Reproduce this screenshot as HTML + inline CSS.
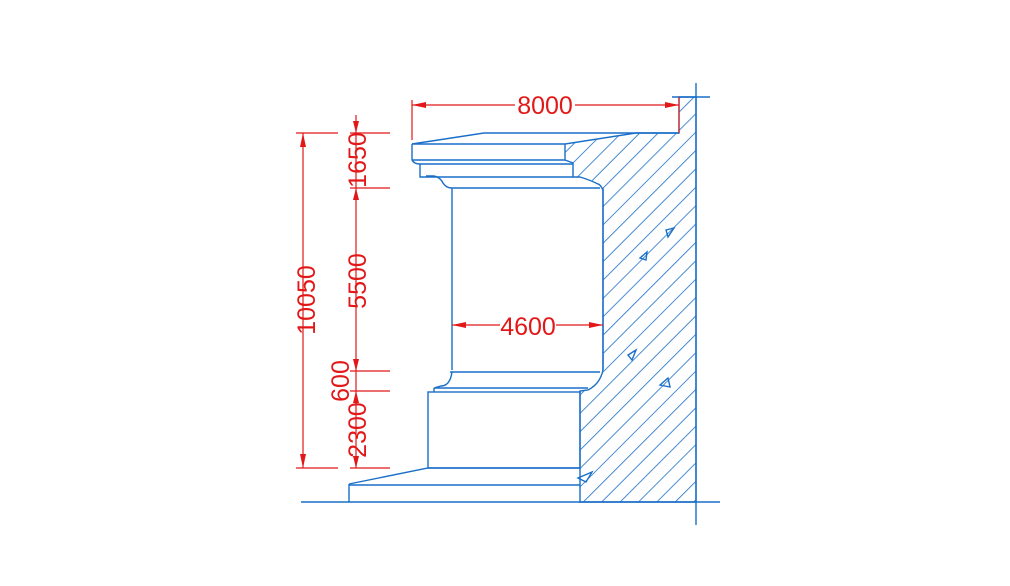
<!DOCTYPE html>
<html><head><style>html,body{margin:0;padding:0;background:#fff}</style></head><body>
<svg width="1010" height="581" viewBox="0 0 1010 581" xmlns="http://www.w3.org/2000/svg">
<defs>
<pattern id="h" patternUnits="userSpaceOnUse" width="13" height="13" patternTransform="rotate(45)">
<line x1="0" y1="0" x2="0" y2="13" stroke="#1a6fc8" stroke-width="1.6"/>
</pattern>
</defs>
<g fill="none" stroke="#1a6fc8" stroke-width="1.4">
<path d="M679,97 L696,97 L696,502 L580,502 L580,391 L588,390 Q600,384 603,370 L603,190 Q600,184 598,184 Q590,180 580,177 L573,177 L573,163 L565,160 L565,144 L636,133 L679,133 Z" fill="url(#h)"/>
<line x1="301" y1="502" x2="720" y2="502"/>
<line x1="696" y1="83" x2="696" y2="525"/>
<line x1="672" y1="97" x2="710" y2="97"/>
<path d="M412,144 L484,133 L679,133"/>
<path d="M412,144 L412,160 Q414,164 420,164 L573,164"/>
<line x1="412" y1="144" x2="565" y2="144"/>
<line x1="412" y1="160" x2="565" y2="160"/>
<path d="M420,164 L420,177 L573,177"/>
<path d="M426,176 L434,176 Q440,177 443,183 Q446,188 452,188 L600,188"/>
<path d="M452,188 L452,370 M603,188 L603,370"/>
<path d="M450,372 L600,372"/>
<path d="M452,372 Q450,386 441,386 L434,388 L588,388"/>
<path d="M434,388 L434,392"/>
<rect x="428" y="392" width="152" height="76"/>
<path d="M349,484 L428,468 L580,468"/>
<path d="M349,484 L349,502 M349,485 L580,485"/>
<path d="M628,355 L636,350 L632,360 Z M578,478 L592,472 L586,482 Z M666,230 L674,228 L668,237 Z M640,258 L647,252 L646,260 Z M660,385 L668,378 L670,387 Z"/>
</g>
<g stroke="#e21818" stroke-width="1.2" fill="#e21818">
<line x1="412" y1="100" x2="412" y2="140"/>
<line x1="679" y1="97" x2="679" y2="133"/>
<line x1="412" y1="105" x2="515" y2="105"/>
<line x1="575" y1="105" x2="679" y2="105"/>
<path d="M412,105 L426,102 L426,108 Z M679,105 L665,102 L665,108 Z" stroke="none"/>
<line x1="303" y1="133" x2="303" y2="468"/>
<line x1="296" y1="133" x2="338" y2="133"/>
<line x1="296" y1="468" x2="338" y2="468"/>
<path d="M303,133 L300,147 L306,147 Z M303,468 L300,454 L306,454 Z" stroke="none"/>
<line x1="356" y1="115" x2="356" y2="468"/>
<line x1="350" y1="133" x2="390" y2="133"/>
<line x1="350" y1="188" x2="390" y2="188"/>
<line x1="350" y1="371" x2="390" y2="371"/>
<line x1="350" y1="391" x2="390" y2="391"/>
<line x1="350" y1="468" x2="390" y2="468"/>
<path d="M356,133 L353,121 L359,121 Z M356,188 L353,200 L359,200 Z M356,371 L353,359 L359,359 Z M356,391 L353,403 L359,403 Z M356,468 L353,456 L359,456 Z" stroke="none"/>
<line x1="452" y1="325" x2="500" y2="325"/>
<line x1="556" y1="325" x2="603" y2="325"/>
<path d="M452,325 L466,322 L466,328 Z M603,325 L589,322 L589,328 Z" stroke="none"/>
</g>
<g fill="#e21818" font-family="Liberation Sans Narrow, Liberation Sans, sans-serif" font-size="25" text-anchor="middle">
<text x="545" y="114">8000</text>
<text x="528" y="335">4600</text>
<text transform="translate(366,160) rotate(-90)">1650</text>
<text transform="translate(366,281) rotate(-90)">5500</text>
<text transform="translate(315,300) rotate(-90)">10050</text>
<text transform="translate(349,381) rotate(-90)">600</text>
<text transform="translate(366,430) rotate(-90)">2300</text>
</g>
</svg>
</body></html>
